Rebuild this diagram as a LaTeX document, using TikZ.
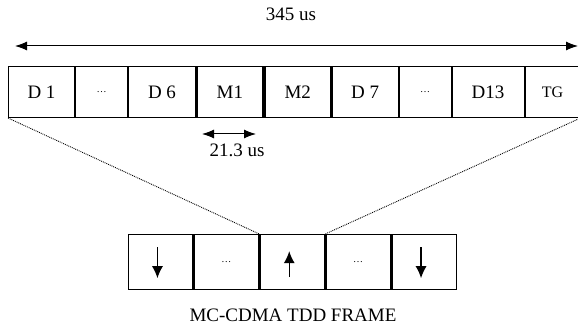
\documentclass[tikz,border=0pt]{standalone}
\usepackage{fontspec}
\setmainfont{Liberation Serif}
\usetikzlibrary{positioning, arrows.meta}
\tikzset{
    slot/.style={draw, line width=1pt, minimum height=51pt, inner sep=0pt, font=\fontsize{19}{19}\selectfont},
    midamble/.style={slot, line width=1.8pt},
    tddslot/.style={draw, line width=1.4pt, minimum width=64.5pt, minimum height=55pt, inner sep=0pt, font=\fontsize{10}{10}\selectfont},
    span/.style={arrows={Latex[length=12pt,width=9pt]-Latex[length=12pt,width=9pt]}, line width=1pt},
    zoomline/.style={densely dotted, line width=0.9pt},
    dirarrow/.style={arrows={-Latex[length=12pt,width=11pt]}, line width=1.2pt},
    label/.style={font=\fontsize{19}{19}\selectfont}
}

\begin{document}
\begin{tikzpicture}[x=1pt, y=-1pt]
    \useasboundingbox (0,0) rectangle (578,331);

    % MC-CDMA frame slots
    \node[slot, minimum width=66pt, anchor=north west] (d1) at (8,66) {D 1};
    \node[slot, minimum width=52pt, right=0pt of d1, font=\fontsize{10}{10}\selectfont] (dotsa) {\dots};
    \node[slot, minimum width=67pt, right=0pt of dotsa] (d6) {D 6};
    \node[midamble, minimum width=66pt, right=0pt of d6] (m1) {M1};
    \node[midamble, minimum width=66pt, right=0pt of m1] (m2) {M2};
    \node[slot, minimum width=66pt, right=0pt of m2] (d7) {D 7};
    \node[slot, minimum width=52pt, right=0pt of d7, font=\fontsize{10}{10}\selectfont] (dotsb) {\dots};
    \node[slot, minimum width=72pt, right=0pt of dotsb] (d13) {D13};
    \node[slot, minimum width=55pt, right=0pt of d13, font=\fontsize{16}{16}\selectfont] (tg) {TG};

    % frame length
    \coordinate (spanL) at (15,46);
    \coordinate (spanR) at (578,46);
    \draw[span] (spanL) -- (spanR);
    \node[label] (frametime) at (291,14) {345 us};

    % slot length
    \coordinate (slotL) at (202,134);
    \coordinate (slotR) at (256,134);
    \draw[span] (slotL) -- (slotR);
    \node[label] (slottime) at (237,150) {21.3 us};

    % TDD frame
    \node[tddslot, anchor=north west] (down1) at (127.5,234) {};
    \node[tddslot, right=0pt of down1] (dotsc) {\dots};
    \node[tddslot, right=0pt of dotsc] (up) {};
    \node[tddslot, right=0pt of up] (dotsd) {\dots};
    \node[tddslot, right=0pt of dotsd] (down2) {};

    \draw[dirarrow] ([xshift=-3pt, yshift=15pt]down1.center) -- ([xshift=-3pt, yshift=-16pt]down1.center);
    \draw[dirarrow] ([xshift=-3pt, yshift=-15pt]up.center) -- ([xshift=-3pt, yshift=11pt]up.center);
    \draw[dirarrow] ([xshift=-3pt, yshift=15pt]down2.center) -- ([xshift=-3pt, yshift=-16pt]down2.center);

    \draw[zoomline] (d1.south west) -- (up.north west);
    \draw[zoomline] (tg.south east) -- (up.north east);

    \node[label] (caption) at (293,315) {MC-CDMA TDD FRAME};
\end{tikzpicture}
\end{document}
